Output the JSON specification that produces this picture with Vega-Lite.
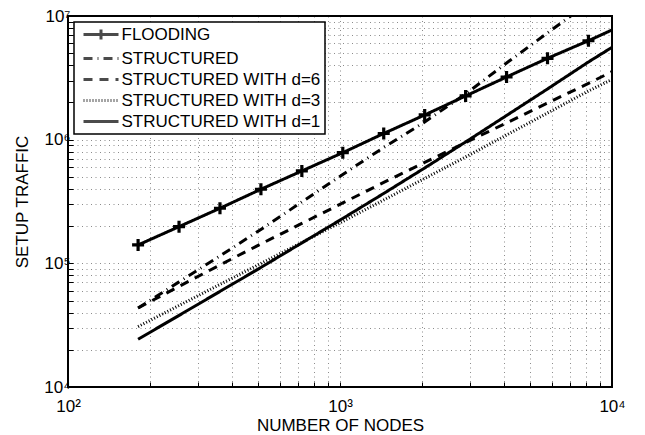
{
  "$schema": "https://vega.github.io/schema/vega-lite/v6.json",
  "width": 544,
  "height": 371,
  "autosize": {"type": "none"},
  "padding": {"left": 68, "top": 16, "right": 33, "bottom": 48},
  "background": "white",
  "config": {
    "font": "Liberation Sans",
    "view": {"stroke": "black", "strokeWidth": 2},
    "axis": {
      "labelFontSize": 17, "titleFontSize": 17, "titleFontWeight": "normal",
      "labelColor": "black", "titleColor": "black",
      "grid": true, "gridColor": "black", "gridDash": [1, 3.5], "gridOpacity": 0.45, "gridWidth": 1,
      "tickColor": "black", "tickSize": -5, "tickWidth": 1, "domain": false,
      "labelFlush": false, "labelOverlap": false
    },
    "legend": {
      "strokeColor": "black", "strokeWidth": 1.5, "fillColor": "white",
      "padding": 4, "labelFontSize": 17, "labelColor": "black", "labelLimit": 0,
      "symbolStrokeColor": "black"
    }
  },
  "data": {"values": [
    {"s": "FLOODING", "n": 181, "v": 140800},
    {"s": "FLOODING", "n": 256, "v": 198000},
    {"s": "FLOODING", "n": 362, "v": 278800},
    {"s": "FLOODING", "n": 512, "v": 397200},
    {"s": "FLOODING", "n": 724, "v": 558500},
    {"s": "FLOODING", "n": 1024, "v": 785000},
    {"s": "FLOODING", "n": 1448, "v": 1122000},
    {"s": "FLOODING", "n": 2048, "v": 1584000},
    {"s": "FLOODING", "n": 2896, "v": 2256000},
    {"s": "FLOODING", "n": 4096, "v": 3213000},
    {"s": "FLOODING", "n": 5793, "v": 4550000},
    {"s": "FLOODING", "n": 8192, "v": 6310000},
    {"s": "FLOODING", "n": 10000, "v": 7710000},
    {"s": "STRUCTURED", "n": 181, "v": 43550},
    {"s": "STRUCTURED", "n": 256, "v": 70800},
    {"s": "STRUCTURED", "n": 362, "v": 114800},
    {"s": "STRUCTURED", "n": 512, "v": 188000},
    {"s": "STRUCTURED", "n": 724, "v": 313500},
    {"s": "STRUCTURED", "n": 1024, "v": 523600},
    {"s": "STRUCTURED", "n": 1448, "v": 865000},
    {"s": "STRUCTURED", "n": 2048, "v": 1390000},
    {"s": "STRUCTURED", "n": 2896, "v": 2342000},
    {"s": "STRUCTURED", "n": 4096, "v": 4169000},
    {"s": "STRUCTURED", "n": 5793, "v": 7290000},
    {"s": "STRUCTURED", "n": 8192, "v": 12740000},
    {"s": "STRUCTURED WITH d=6", "n": 181, "v": 43550},
    {"s": "STRUCTURED WITH d=6", "n": 256, "v": 65070},
    {"s": "STRUCTURED WITH d=6", "n": 362, "v": 97070},
    {"s": "STRUCTURED WITH d=6", "n": 512, "v": 143500},
    {"s": "STRUCTURED WITH d=6", "n": 724, "v": 210200},
    {"s": "STRUCTURED WITH d=6", "n": 1024, "v": 307800},
    {"s": "STRUCTURED WITH d=6", "n": 1448, "v": 450800},
    {"s": "STRUCTURED WITH d=6", "n": 2048, "v": 654200},
    {"s": "STRUCTURED WITH d=6", "n": 2896, "v": 949300},
    {"s": "STRUCTURED WITH d=6", "n": 4096, "v": 1365000},
    {"s": "STRUCTURED WITH d=6", "n": 5793, "v": 1980000},
    {"s": "STRUCTURED WITH d=6", "n": 8192, "v": 2850000},
    {"s": "STRUCTURED WITH d=6", "n": 10000, "v": 3550000},
    {"s": "STRUCTURED WITH d=3", "n": 181, "v": 30780},
    {"s": "STRUCTURED WITH d=3", "n": 256, "v": 45650},
    {"s": "STRUCTURED WITH d=3", "n": 362, "v": 67520},
    {"s": "STRUCTURED WITH d=3", "n": 512, "v": 99820},
    {"s": "STRUCTURED WITH d=3", "n": 724, "v": 147600},
    {"s": "STRUCTURED WITH d=3", "n": 1024, "v": 218100},
    {"s": "STRUCTURED WITH d=3", "n": 1448, "v": 325400},
    {"s": "STRUCTURED WITH d=3", "n": 2048, "v": 485800},
    {"s": "STRUCTURED WITH d=3", "n": 2896, "v": 724600},
    {"s": "STRUCTURED WITH d=3", "n": 4096, "v": 1091000},
    {"s": "STRUCTURED WITH d=3", "n": 5793, "v": 1643000},
    {"s": "STRUCTURED WITH d=3", "n": 8192, "v": 2475000},
    {"s": "STRUCTURED WITH d=3", "n": 10000, "v": 3067000},
    {"s": "STRUCTURED WITH d=1", "n": 181, "v": 24340},
    {"s": "STRUCTURED WITH d=1", "n": 256, "v": 37920},
    {"s": "STRUCTURED WITH d=1", "n": 362, "v": 59270},
    {"s": "STRUCTURED WITH d=1", "n": 512, "v": 92630},
    {"s": "STRUCTURED WITH d=1", "n": 724, "v": 146200},
    {"s": "STRUCTURED WITH d=1", "n": 1024, "v": 230700},
    {"s": "STRUCTURED WITH d=1", "n": 1448, "v": 367400},
    {"s": "STRUCTURED WITH d=1", "n": 2048, "v": 590400},
    {"s": "STRUCTURED WITH d=1", "n": 2896, "v": 958100},
    {"s": "STRUCTURED WITH d=1", "n": 4096, "v": 1569000},
    {"s": "STRUCTURED WITH d=1", "n": 5793, "v": 2570000},
    {"s": "STRUCTURED WITH d=1", "n": 8192, "v": 4248000},
    {"s": "STRUCTURED WITH d=1", "n": 10000, "v": 5580000}
  ]},
  "layer": [
    {
      "mark": {"type": "line", "clip": true, "color": "black", "strokeCap": "butt", "strokeWidth": 3},
      "encoding": {
        "x": {
          "field": "n", "type": "quantitative",
          "scale": {"type": "log", "domain": [100, 10000], "nice": false},
          "axis": {
            "title": "NUMBER OF NODES",
            "values": [100, 200, 300, 400, 500, 600, 700, 800, 900, 1000, 2000, 3000, 4000, 5000, 6000, 7000, 8000, 9000, 10000],
            "labelExpr": "datum.value == 100 ? '10²' : datum.value == 1000 ? '10³' : datum.value == 10000 ? '10⁴' : ''",
            "labelPadding": 16,
            "titlePadding": 3
          }
        },
        "y": {
          "field": "v", "type": "quantitative",
          "scale": {"type": "log", "domain": [10000, 10000000], "nice": false},
          "axis": {
            "title": "SETUP TRAFFIC",
            "values": [10000, 20000, 30000, 40000, 50000, 60000, 70000, 80000, 90000, 100000, 200000, 300000, 400000, 500000, 600000, 700000, 800000, 900000, 1000000, 2000000, 3000000, 4000000, 5000000, 6000000, 7000000, 8000000, 9000000, 10000000],
            "labelExpr": "datum.value == 10000 ? '10⁴' : datum.value == 100000 ? '10⁵' : datum.value == 1000000 ? '10⁶' : datum.value == 10000000 ? '10⁷' : ''",
            "labelPadding": 3,
            "titlePadding": 12.5
          }
        },
        "strokeDash": {
          "field": "s", "type": "nominal",
          "scale": {
            "domain": ["FLOODING", "STRUCTURED", "STRUCTURED WITH d=6", "STRUCTURED WITH d=3", "STRUCTURED WITH d=1"],
            "range": [[1, 0], [9, 5, 1, 5], [9, 7], [1, 2], [1, 0]]
          },
          "legend": {
            "title": null,
            "orient": "top-left",
            "offset": 5.5,
            "symbolType": "M-2.5,0L2.5,0",
            "symbolSize": 196,
            "symbolOffset": 14.5,
            "symbolStrokeWidth": 3,
            "labelOffset": 12,
            "rowPadding": 3
          }
        }
      }
    },
    {
      "transform": [{"filter": "false"}],
      "mark": {"type": "point", "filled": false, "color": "black"},
      "encoding": {
        "x": {"field": "n", "type": "quantitative"},
        "y": {"field": "v", "type": "quantitative"},
        "shape": {
          "field": "s", "type": "nominal",
          "scale": {
            "domain": ["FLOODING", "STRUCTURED", "STRUCTURED WITH d=6", "STRUCTURED WITH d=3", "STRUCTURED WITH d=1"],
            "range": ["M-2.5,0L2.5,0M0,-0.7L0,0.7", "M-2.5,0L2.5,0", "M-2.5,0L2.5,0", "M-2.5,0L2.5,0", "M-2.5,0L2.5,0"]
          }
        }
      }
    },
    {
      "transform": [{"filter": "datum.s === 'FLOODING' && datum.n < 10000"}],
      "mark": {"type": "point", "shape": "M-1,0L1,0M0,-1L0,1", "size": 144, "strokeWidth": 3.2, "color": "black", "filled": false, "opacity": 1},
      "encoding": {
        "x": {"field": "n", "type": "quantitative"},
        "y": {"field": "v", "type": "quantitative"}
      }
    }
  ]
}
